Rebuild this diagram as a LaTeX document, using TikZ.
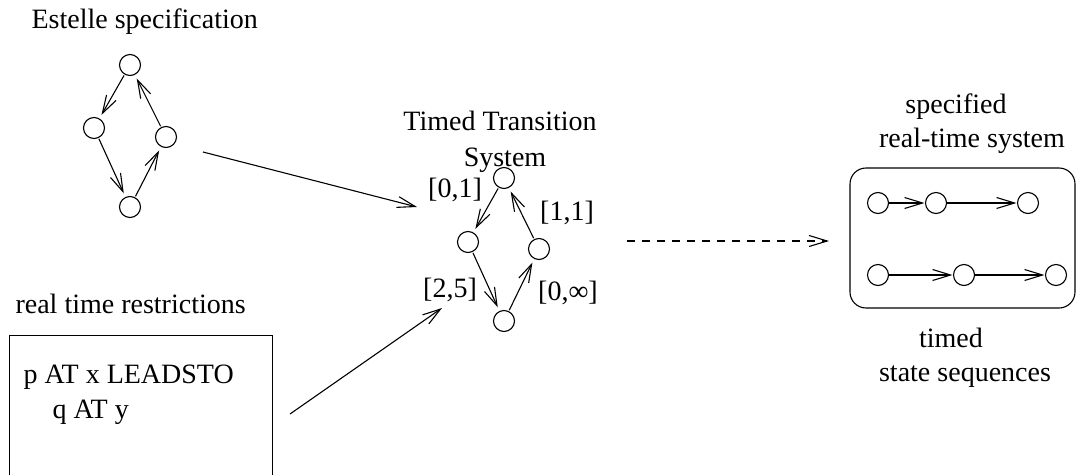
\documentclass[tikz,border=0pt]{standalone}
\usepackage{fontspec}
\setmainfont{Liberation Serif}
\usetikzlibrary{arrows.meta, positioning}

\begin{document}
\begin{tikzpicture}[
    x=1pt, y=-1pt,
    line width=1.1pt,
    font=\fontsize{28}{30}\selectfont,
    >={Straight Barb[length=18pt,width=11pt]},
    st/.style={circle, draw, minimum size=21pt, inner sep=0pt},
    txt/.style={inner sep=0pt, anchor=base},
    trans/.style={->, shorten >=4pt, shorten <=1pt},
    seq/.style={->, shorten >=0.5pt},
  ]
  \useasboundingbox (0,0) rectangle (1076,474);

  % Estelle specification
  \node[txt, anchor=base west] (estelle) at (31,28) {Estelle specification};
  \node[st] (e1) at (130,65) {};
  \node[st] (e2) at (94,128) {};
  \node[st] (e3) at (166,137) {};
  \node[st] (e4) at (130,207) {};
  \draw[trans] (e1) -- (e2);
  \draw[trans] (e2) -- (e4);
  \draw[trans] (e4) -- (e3);
  \draw[trans] (e3) -- (e1);

  % real time restrictions
  \node[txt, anchor=base west] (rtr) at (15,313) {real time restrictions};
  \node[draw, anchor=north west, minimum width=263pt, minimum height=160pt,
    inner sep=0pt] (rbox) at (9,335) {};
  \node[txt, anchor=base west] (leads) at (23,383) {p AT x LEADSTO};
  \node[txt, anchor=base west] (qat) at (52,418) {q AT y};

  % Timed Transition System
  \node[txt] (tts1) at (500,130) {Timed Transition};
  \node[txt] (tts2) at (505,166) {System};
  \node[st] (t1) at (504,178) {};
  \node[st] (t2) at (468,242) {};
  \node[st] (t3) at (539,249) {};
  \node[st] (t4) at (504,321) {};
  \draw[trans] (t1) -- (t2);
  \draw[trans] (t2) -- (t4);
  \draw[trans] (t4) -- (t3);
  \draw[trans] (t3) -- (t1);
  \node (l01) at (455,190) {[0,1]};
  \node (l11) at (567,213) {[1,1]};
  \node (l25) at (450,290) {[2,5]};
  \node (l0i) at (568,293) {[0,∞]};

  % connectors
  \coordinate (a1s) at (203,152);
  \coordinate (a1e) at (417,207);
  \coordinate (a2s) at (290,414);
  \coordinate (a2e) at (442,308);
  \coordinate (a3s) at (627,241);
  \coordinate (a3e) at (829,241);
  \draw[->] (a1s) -- (a1e);
  \draw[->] (a2s) -- (a2e);
  \draw[->, dash pattern=on 8pt off 7pt] (a3s) -- (a3e);

  % specified real-time system
  \node[txt] (spec) at (956,113) {specified};
  \node[txt] (rts) at (972,147) {real-time system};
  \node[draw, rounded corners=16pt, minimum width=225pt, minimum height=140pt,
    inner sep=0pt] (sbox) at (962.5,238) {};
  \node[st] (s1) at (878,203) {};
  \node[st] (s2) at (936,203) {};
  \node[st] (s3) at (1028,203) {};
  \node[st] (r1) at (878,275) {};
  \node[st] (r2) at (964,275) {};
  \node[st] (r3) at (1056,275) {};
  \draw[seq] (s1) -- (s2);
  \draw[seq] (s2) -- (s3);
  \draw[seq] (r1) -- (r2);
  \draw[seq] (r2) -- (r3);
  \node[txt] (timed) at (951,347) {timed};
  \node[txt] (states) at (965,381) {state sequences};
\end{tikzpicture}
\end{document}
